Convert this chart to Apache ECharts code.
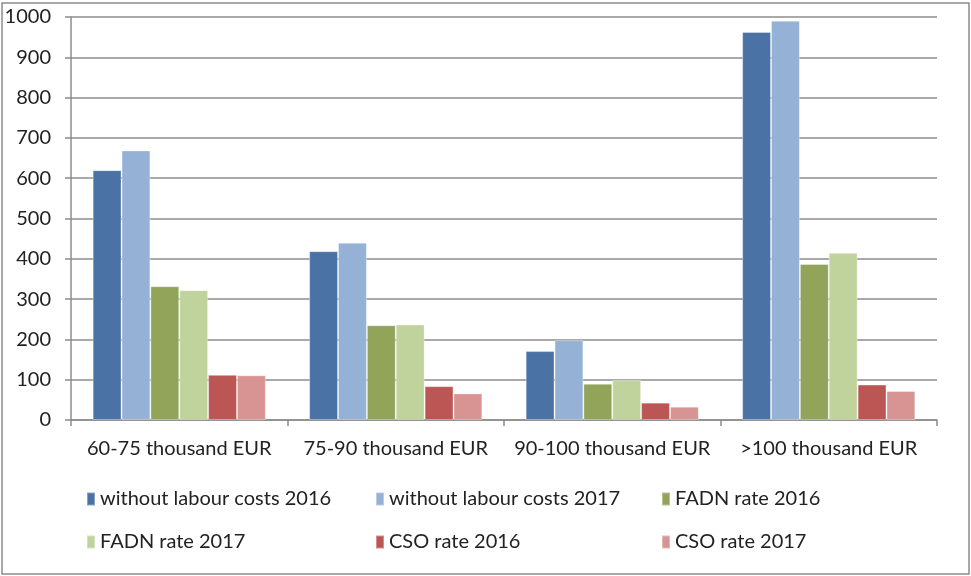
<!DOCTYPE html>
<html>
<head>
<meta charset="utf-8">
<script src="https://cdn.jsdelivr.net/npm/echarts@6/dist/echarts.min.js"></script>
<style>
  html, body { margin: 0; padding: 0; background: #fff; }
  #main { width: 971px; height: 576px; }
</style>
</head>
<body>
<div id="main"></div>
<script>
// categories and values
var categories = ['60-75 thousand EUR', '75-90 thousand EUR', '90-100 thousand EUR', '>100 thousand EUR'];
var labour2016 = [620, 419, 171, 963];
var labour2017 = [669, 440, 198, 991];
var fadn2016 = [332, 235, 90, 387];
var fadn2017 = [322, 237, 99, 415];
var cso2016 = [112, 84, 43, 88];
var cso2017 = [111, 66, 33, 72];

var seriesNames = ['without labour costs 2016', 'without labour costs 2017', 'FADN rate 2016',
  'FADN rate 2017', 'CSO rate 2016', 'CSO rate 2017'];
var seriesData = [labour2016, labour2017, fadn2016, fadn2017, cso2016, cso2017];
var colors = ['#4A72A5', '#95B1D6', '#92A35A', '#C1D39C', '#BB5654', '#D79492'];

var font = 'Lato';
var chart = echarts.init(document.getElementById('main'));

// legend in 3 columns, 2 rows
function legendCol(names, left) {
  return {
    orient: 'vertical',
    left: left,
    top: 488,
    padding: 0,
    itemWidth: 8,
    itemHeight: 13,
    itemGap: 21,
    icon: 'rect',
    data: names,
    textStyle: { fontFamily: font, fontSize: 20, color: '#222', lineHeight: 22 }
  };
}

var option = {
  animation: false,
  color: colors,
  grid: { left: 71, right: 34, top: 17, bottom: 156 },
  legend: [
    legendCol([seriesNames[0], seriesNames[3]], 86),
    legendCol([seriesNames[1], seriesNames[4]], 375),
    legendCol([seriesNames[2], seriesNames[5]], 661)
  ],
  xAxis: {
    type: 'category',
    data: categories,
    axisLine: { lineStyle: { color: '#8c8c8c', width: 1.5 } },
    axisTick: { show: true, length: 6, lineStyle: { color: '#8c8c8c', width: 1.5 } },
    axisLabel: { interval: 0, fontFamily: font, fontSize: 20, color: '#222', margin: 19 }
  },
  yAxis: {
    type: 'value',
    min: 0,
    max: 1000,
    interval: 100,
    axisLine: { show: true, lineStyle: { color: '#8c8c8c', width: 1.5 } },
    axisTick: { show: true, length: 6, lineStyle: { color: '#8c8c8c', width: 1.5 } },
    splitLine: { lineStyle: { color: '#8c8c8c', width: 1.5 } },
    axisLabel: {
      fontFamily: font, fontSize: 20, color: '#222', margin: 20,
      formatter: function(v) { return String(v); }
    }
  },
  series: seriesNames.map(function(name, i) {
    return {
      name: name,
      type: 'bar',
      data: seriesData[i],
      barGap: '0%',
      barCategoryGap: '20%',
      itemStyle: { borderColor: 'rgba(255,255,255,0.35)', borderWidth: 1 }
    };
  }),
  graphic: [{
    type: 'rect',
    shape: { x: 2, y: 3, width: 967, height: 571 },
    style: { fill: 'none', stroke: '#8c8c8c', lineWidth: 1.5 },
    silent: true
  }]
};
chart.setOption(option);
</script>
</body>
</html>
